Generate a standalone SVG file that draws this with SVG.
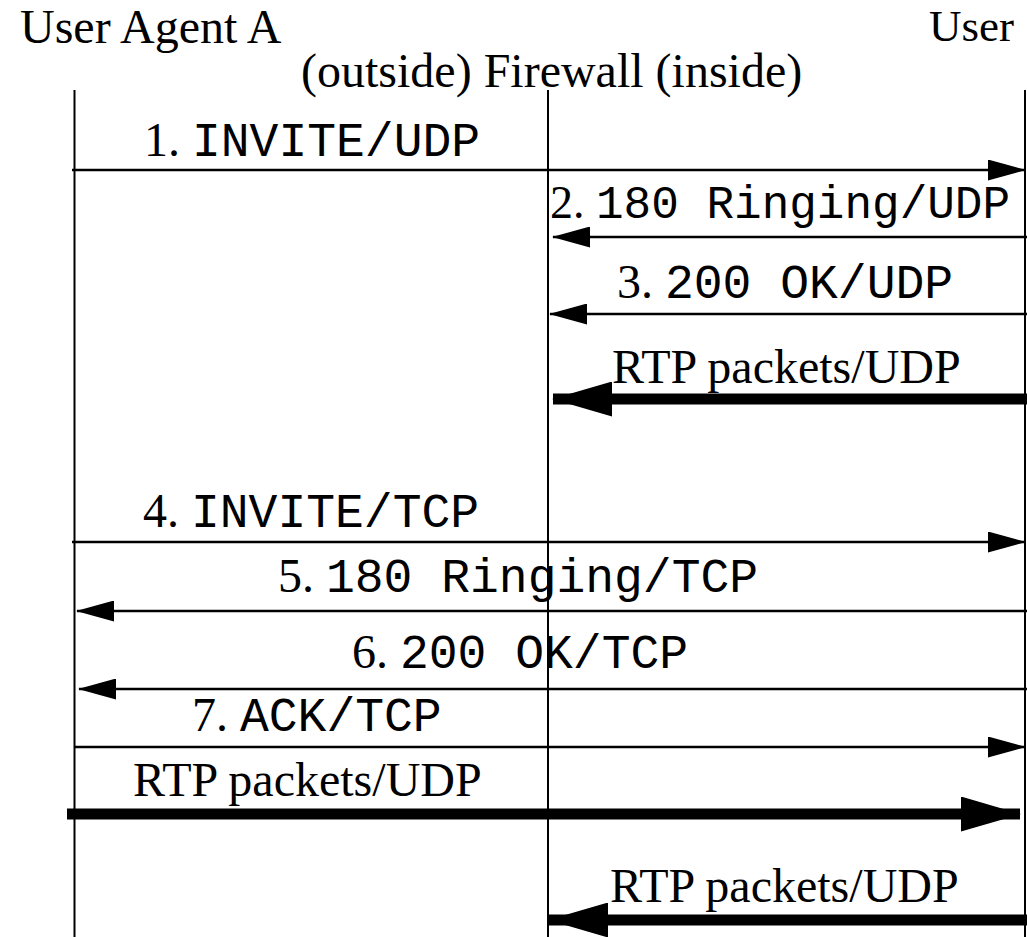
<svg xmlns="http://www.w3.org/2000/svg" width="1027" height="937" viewBox="0 0 1027 937">
<style>
.t{font-family:"Liberation Serif","Times New Roman",serif;font-size:48px;fill:#000}
.m{font-family:"Liberation Mono","Courier New",monospace;font-size:48px;fill:#000}
.life{stroke:#000;stroke-width:2;fill:none}
.msg{stroke:#000;stroke-width:2.5;fill:none;marker-end:url(#ah)}
.rtp{stroke:#000;stroke-width:11;fill:none;marker-end:url(#ahb)}
</style>
<defs>
<marker id="ah" viewBox="0 0 38 21" refX="37" refY="10.5" markerWidth="38" markerHeight="21" markerUnits="userSpaceOnUse" orient="auto">
<path d="M0,0 L38,10.5 L0,21 z" fill="#000"/>
</marker>
<marker id="ahb" viewBox="0 0 60 35" refX="59" refY="17.5" markerWidth="60" markerHeight="35" markerUnits="userSpaceOnUse" orient="auto">
<path d="M0,0 L60,17.5 L0,35 z" fill="#000"/>
</marker>
</defs>
<rect width="1027" height="937" fill="#fff"/>
<g id="ua-a"><text class="t" x="20" y="43">User Agent A</text><line class="life" x1="74.5" y1="90" x2="74.5" y2="937"/></g>
<g id="ua-b"><text class="t" x="929" y="41" style="font-size:45px">User</text><line class="life" x1="1025" y1="90" x2="1025" y2="937"/></g>
<g id="firewall"><text class="t" x="301" y="87">(outside) Firewall (inside)</text><line class="life" x1="548" y1="90" x2="548" y2="937"/></g>
<g id="connectors">
<path class="msg" d="M72,170 H1025"/>
<path class="msg" d="M1027,237 H553"/>
<path class="msg" d="M1027,314 H550"/>
<path class="rtp" d="M1027,399 H553"/>
<path class="msg" d="M72,542 H1025"/>
<path class="msg" d="M1027,611 H77"/>
<path class="msg" d="M1027,689 H79"/>
<path class="msg" d="M75,747 H1025"/>
<path class="rtp" d="M67,814 H1020"/>
<path class="rtp" d="M1027,920 H549"/>
</g>
<g id="labels">
<text x="144" y="156"><tspan class="t">1. </tspan><tspan class="m">INVITE/UDP</tspan></text>
<text x="550" y="218"><tspan class="t" style="font-size:46px">2. </tspan><tspan class="m" style="font-size:46px">180 Ringing/UDP</tspan></text>
<text x="617" y="298"><tspan class="t">3. </tspan><tspan class="m">200 OK/UDP</tspan></text>
<text class="t" x="612" y="383">RTP packets/UDP</text>
<text x="143" y="527"><tspan class="t">4. </tspan><tspan class="m">INVITE/TCP</tspan></text>
<text x="278" y="592"><tspan class="t">5. </tspan><tspan class="m">180 Ringing/TCP</tspan></text>
<text x="352" y="668"><tspan class="t">6. </tspan><tspan class="m">200 OK/TCP</tspan></text>
<text x="192" y="731"><tspan class="t">7. </tspan><tspan class="m">ACK/TCP</tspan></text>
<text class="t" x="133" y="796">RTP packets/UDP</text>
<text class="t" x="610" y="902">RTP packets/UDP</text>
</g>
</svg>
